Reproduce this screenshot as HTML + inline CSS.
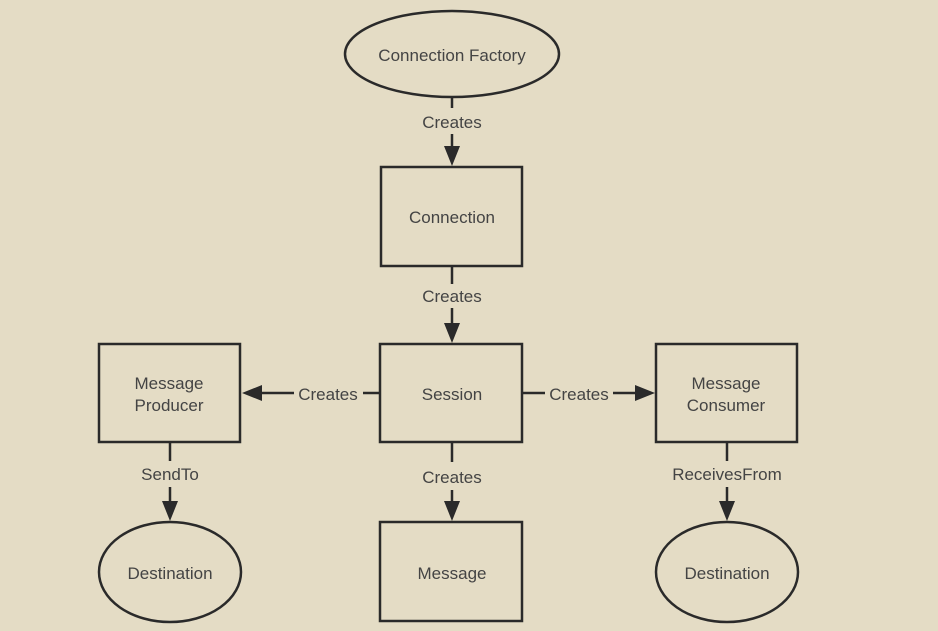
<!DOCTYPE html>
<html><head><meta charset="utf-8"><style>
html,body{margin:0;padding:0;background:#e4dcc5;}
svg{display:block;}
text{font-family:"Liberation Sans","DejaVu Sans",sans-serif;font-size:17px;fill:#444;text-anchor:middle;}
</style></head><body>
<svg width="938" height="631" viewBox="0 0 938 631" xmlns="http://www.w3.org/2000/svg">
<rect width="938" height="631" fill="#e4dcc5"/>
<g fill="none" stroke="#2a2a2a" stroke-width="2.5">
<ellipse cx="452" cy="54" rx="107" ry="43"/>
<rect x="381" y="167" width="141" height="99"/>
<rect x="380" y="344" width="142" height="98"/>
<rect x="99" y="344" width="141" height="98"/>
<rect x="656" y="344" width="141" height="98"/>
<rect x="380" y="522" width="142" height="99"/>
<ellipse cx="170" cy="572" rx="71" ry="50"/>
<ellipse cx="727" cy="572" rx="71" ry="50"/>
<path d="M452 97V108M452 134V150"/>
<path d="M452 267V284M452 308V326"/>
<path d="M380 393H363M294 393H262"/>
<path d="M522 393H545M613 393H636"/>
<path d="M452 442V462M452 490V503"/>
<path d="M170 442V461M170 487V503"/>
<path d="M727 442V461M727 487V503"/>
</g>
<g fill="#2a2a2a">
<path d="M444 146L460 146L452 166Z"/>
<path d="M444 323L460 323L452 343Z"/>
<path d="M262 385L262 401L242 393Z"/>
<path d="M635 385L635 401L655 393Z"/>
<path d="M444 501L460 501L452 521Z"/>
<path d="M162 501L178 501L170 521Z"/>
<path d="M719 501L735 501L727 521Z"/>
</g>
<text x="452" y="61">Connection Factory</text>
<text x="452" y="128">Creates</text>
<text x="452" y="223">Connection</text>
<text x="452" y="302">Creates</text>
<text x="452" y="400">Session</text>
<text x="328" y="400">Creates</text>
<text x="579" y="400">Creates</text>
<text x="169" y="389">Message</text>
<text x="169" y="411">Producer</text>
<text x="726" y="389">Message</text>
<text x="726" y="411">Consumer</text>
<text x="452" y="483">Creates</text>
<text x="170" y="480">SendTo</text>
<text x="727" y="480">ReceivesFrom</text>
<text x="170" y="579">Destination</text>
<text x="727" y="579">Destination</text>
<text x="452" y="579">Message</text>
</svg>
</body></html>
